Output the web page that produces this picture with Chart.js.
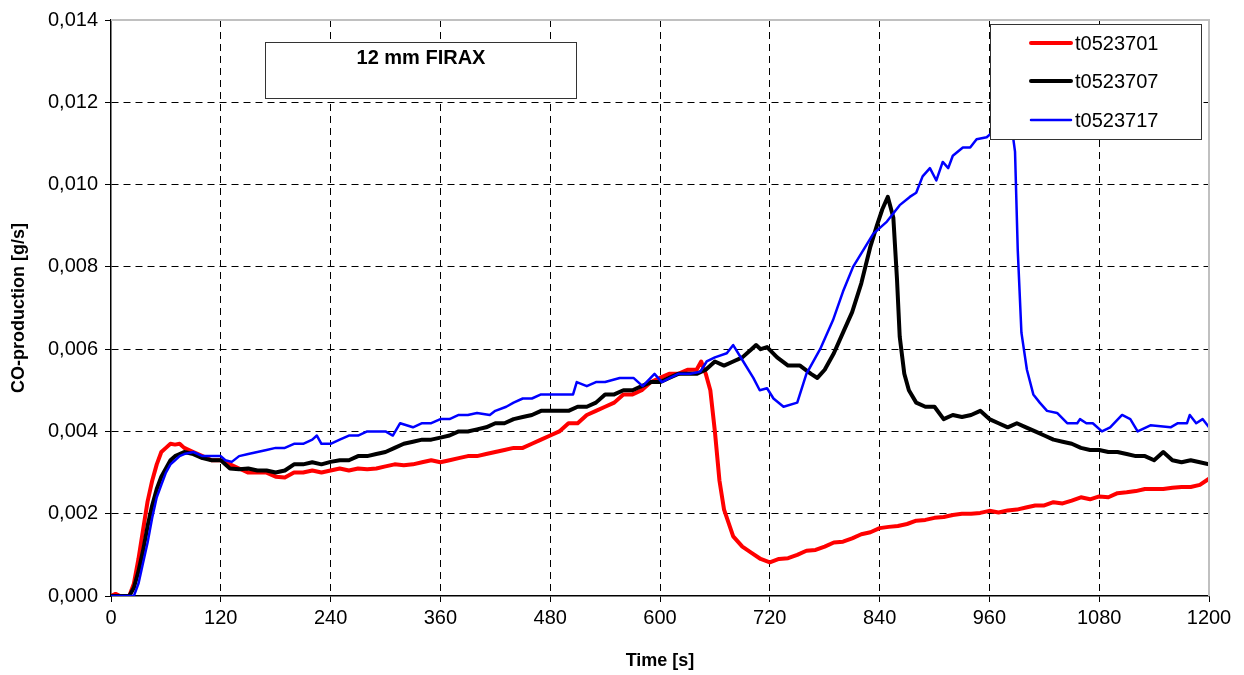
<!DOCTYPE html>
<html>
<head>
<meta charset="utf-8">
<script src="https://cdn.jsdelivr.net/npm/chart.js@4"></script>
<style>
  html, body { margin: 0; padding: 0; background: #fff; }
  #wrap { width: 1244px; height: 675px; position: relative; }
</style>
</head>
<body>
<div id="wrap"><canvas id="coChart" width="1244" height="675"></canvas></div>
<script>
const chartTitle = '12 mm FIRAX';
const seriesNames = ['t0523701', 't0523707', 't0523717'];
const xTicksMax = 1200;
const yTicksMax = 0.014;

const timeRed = [0,5,10,20,25,30,35,40,45,50,55,60,65,70,75,80,90,100,110,120,130,140,150,160,170,180,190,200,210,220,230,240,250,260,270,280,290,300,310,320,330,340,350,360,370,380,390,400,410,420,430,440,450,460,470,480,490,500,510,520,530,540,550,560,570,580,590,600,610,620,630,640,645,650,655,660,665,670,680,690,700,710,720,730,740,750,760,770,780,790,800,810,820,830,840,850,860,870,880,890,900,910,920,930,940,950,960,970,980,990,1000,1010,1020,1030,1040,1050,1060,1070,1080,1090,1100,1110,1120,1130,1140,1150,1160,1170,1180,1190,1200];
const coRed = [0,0.00005,0,0,0.0003,0.0009,0.0016,0.0023,0.0028,0.0032,0.0035,0.0036,0.0037,0.00368,0.0037,0.0036,0.0035,0.0034,0.0033,0.0033,0.0032,0.0031,0.0030,0.0030,0.0030,0.0029,0.00288,0.0030,0.0030,0.00305,0.0030,0.00305,0.0031,0.00305,0.0031,0.00308,0.0031,0.00315,0.0032,0.00318,0.0032,0.00325,0.0033,0.00325,0.0033,0.00335,0.0034,0.0034,0.00345,0.0035,0.00355,0.0036,0.0036,0.0037,0.0038,0.0039,0.0040,0.0042,0.0042,0.0044,0.0045,0.0046,0.0047,0.0049,0.0049,0.0050,0.0052,0.0053,0.0054,0.0054,0.0055,0.0055,0.0057,0.0054,0.0050,0.0040,0.0028,0.0021,0.00145,0.0012,0.00105,0.0009,0.00082,0.0009,0.00092,0.001,0.0011,0.00112,0.0012,0.0013,0.00132,0.0014,0.0015,0.00155,0.00165,0.00168,0.0017,0.00175,0.00183,0.00185,0.0019,0.00192,0.00197,0.002,0.002,0.00202,0.00207,0.00203,0.00208,0.0021,0.00215,0.0022,0.0022,0.00228,0.00225,0.00232,0.0024,0.00235,0.00242,0.0024,0.0025,0.00252,0.00255,0.0026,0.0026,0.0026,0.00263,0.00265,0.00265,0.0027,0.00285];

const timeBlack = [0,10,20,25,30,35,40,45,50,55,60,65,70,75,80,90,100,110,120,130,140,150,160,170,180,190,200,210,220,230,240,250,260,270,280,290,300,310,320,330,340,350,360,370,380,390,400,410,420,430,440,450,460,470,480,490,500,510,520,530,540,550,560,570,580,590,600,610,620,630,640,650,660,670,680,690,700,705,710,717,728,740,753,765,772,780,790,800,810,820,830,837,843,849,855,859,862,867,872,880,890,900,910,920,930,940,950,960,970,980,990,1000,1010,1020,1030,1040,1050,1060,1070,1080,1090,1100,1110,1120,1130,1140,1150,1160,1170,1180,1190,1200];
const coBlack = [0,0,0,0.0002,0.0006,0.0011,0.0017,0.0022,0.0026,0.0029,0.0031,0.0033,0.0034,0.00345,0.0035,0.00345,0.00335,0.0033,0.0033,0.0031,0.00308,0.0031,0.00305,0.00305,0.0030,0.00305,0.0032,0.0032,0.00325,0.0032,0.00326,0.0033,0.0033,0.0034,0.0034,0.00345,0.0035,0.0036,0.0037,0.00375,0.0038,0.0038,0.00385,0.0039,0.0040,0.0040,0.00405,0.0041,0.0042,0.0042,0.0043,0.00435,0.0044,0.0045,0.0045,0.0045,0.0045,0.0046,0.0046,0.0047,0.0049,0.0049,0.0050,0.0050,0.0051,0.0052,0.0052,0.0053,0.0054,0.0054,0.0054,0.0055,0.0057,0.0056,0.0057,0.0058,0.0060,0.0061,0.0060,0.00605,0.0058,0.0056,0.0056,0.0054,0.0053,0.0055,0.0059,0.0064,0.0069,0.0076,0.0085,0.0090,0.0094,0.0097,0.0092,0.0077,0.0063,0.0054,0.0050,0.0047,0.0046,0.0046,0.0043,0.0044,0.00435,0.0044,0.0045,0.0043,0.0042,0.0041,0.0042,0.0041,0.0040,0.0039,0.0038,0.00375,0.0037,0.0036,0.00355,0.00355,0.0035,0.0035,0.00345,0.0034,0.0034,0.0033,0.0035,0.0033,0.00325,0.0033,0.00325,0.0032];

const timeBlue = [0,10,20,25,30,35,40,45,50,55,60,65,70,75,80,90,100,110,120,125,132,140,150,160,170,180,190,200,210,220,225,230,240,250,260,270,280,290,300,308,316,330,340,350,360,370,380,390,400,414,420,432,440,450,460,470,480,490,505,509,520,530,540,556,571,581,594,602,611,620,633,644,651,660,673,680,691,702,709,717,724,735,750,760,775,789,800,811,822,833,848,862,873,880,887,895,902,909,915,920,931,939,946,957,965,975,982,988,991,995,1001,1008,1015,1023,1034,1045,1056,1059,1066,1073,1083,1092,1105,1114,1122,1136,1158,1166,1176,1179,1186,1193,1200];
const coBlue = [0,0,0,0,0.0003,0.0008,0.0013,0.0019,0.0024,0.0027,0.0030,0.0032,0.0033,0.0034,0.00345,0.0035,0.0034,0.0034,0.0034,0.0033,0.00326,0.0034,0.00345,0.0035,0.00355,0.0036,0.0036,0.0037,0.0037,0.0038,0.0039,0.0037,0.0037,0.0038,0.0039,0.0039,0.0040,0.0040,0.0040,0.0039,0.0042,0.0041,0.0042,0.0042,0.0043,0.0043,0.0044,0.0044,0.00445,0.0044,0.0045,0.0046,0.0047,0.0048,0.0048,0.0049,0.0049,0.0049,0.0049,0.0052,0.0051,0.0052,0.0052,0.0053,0.0053,0.0051,0.0054,0.0052,0.0053,0.0054,0.0054,0.00545,0.0057,0.0058,0.0059,0.0061,0.0057,0.0053,0.0050,0.00505,0.0048,0.0046,0.0047,0.0054,0.0060,0.0067,0.0074,0.0080,0.0084,0.0088,0.0091,0.0095,0.0097,0.0098,0.0102,0.0104,0.0101,0.01055,0.0104,0.0107,0.0109,0.0109,0.0111,0.01115,0.0113,0.0117,0.0118,0.0108,0.0084,0.0064,0.0055,0.0049,0.0047,0.0045,0.00445,0.0042,0.0042,0.0043,0.0042,0.0042,0.0040,0.0041,0.0044,0.0043,0.0040,0.00415,0.0041,0.0042,0.0042,0.0044,0.0042,0.0043,0.0041];

function toPoints(ts, vs) {
    return ts.map((t, i) => ({ x: t, y: vs[i] }));
}

// title box and legend drawn inside the plot, like the original sheet
const boxesPlugin = {
    id: 'boxes',
    afterDraw(chart) {
        const ctx = chart.ctx;
        const area = chart.chartArea;
        ctx.save();

        // grey frame on top and right
        ctx.strokeStyle = '#c0c0c0';
        ctx.lineWidth = 2;
        ctx.beginPath();
        ctx.moveTo(area.left, area.top);
        ctx.lineTo(area.right, area.top);
        ctx.lineTo(area.right, area.bottom);
        ctx.stroke();

        // title box
        ctx.fillStyle = '#fff';
        ctx.fillRect(265, 42, 311, 56);
        ctx.strokeStyle = '#333';
        ctx.lineWidth = 1;
        ctx.strokeRect(265.5, 42.5, 311, 56);
        ctx.fillStyle = '#000';
        ctx.font = 'bold 20px "Liberation Sans", Arial, sans-serif';
        ctx.textAlign = 'center';
        ctx.textBaseline = 'middle';
        ctx.fillText(chartTitle, 421, 58);

        // legend
        ctx.fillStyle = '#fff';
        ctx.fillRect(990, 24, 211, 115);
        ctx.strokeStyle = '#333';
        ctx.strokeRect(990.5, 24.5, 211, 115);
        ctx.font = '20px "Liberation Sans", Arial, sans-serif';
        ctx.textAlign = 'left';
        const rows = [43, 81, 120];
        chart.data.datasets.forEach((ds, i) => {
            ctx.strokeStyle = ds.borderColor;
            ctx.lineWidth = ds.borderWidth;
            ctx.lineCap = 'round';
            ctx.beginPath();
            ctx.moveTo(1031, rows[i]);
            ctx.lineTo(1071, rows[i]);
            ctx.stroke();
            ctx.fillStyle = '#000';
            ctx.fillText(ds.label, 1075, rows[i] + 1);
        });
        ctx.restore();
    }
};

window.onload = function() {
    const ctx = document.getElementById('coChart').getContext('2d');
    new Chart(ctx, {
        type: 'line',
        data: {
            datasets: [
                { label: seriesNames[0], data: toPoints(timeRed, coRed), borderColor: '#ff0000', borderWidth: 4, order: 2 },
                { label: seriesNames[1], data: toPoints(timeBlack, coBlack), borderColor: '#000000', borderWidth: 4, order: 1 },
                { label: seriesNames[2], data: toPoints(timeBlue, coBlue), borderColor: '#0000ff', borderWidth: 2.5, order: 0 }
            ]
        },
        options: {
            responsive: false,
            animation: false,
            events: [],
            elements: { point: { radius: 0 }, line: { tension: 0, borderJoinStyle: 'round', borderCapStyle: 'round' } },
            layout: { padding: { top: 20, right: 35, left: 0, bottom: 0 } },
            plugins: { legend: { display: false }, tooltip: { enabled: false } },
            scales: {
                x: {
                    type: 'linear',
                    min: 0,
                    max: xTicksMax,
                    afterFit: s => { s.height = 79; },
                    ticks: { stepSize: 120, color: '#000', padding: 4, maxRotation: 0,
                        callback: v => String(v),
                        font: { family: '"Liberation Sans", Arial, sans-serif', size: 20 } },
                    grid: {
                        color: c => (c.tick && c.tick.value > 0 && c.tick.value < xTicksMax) ? '#000' : 'rgba(0,0,0,0)',
                        tickColor: '#000',
                        tickLength: 6,
                        lineWidth: 1
                    },
                    border: { display: true, color: '#000', width: 1.5, dash: [7, 5] },
                    title: { display: true, text: 'Time [s]', color: '#000', padding: { top: 0, bottom: 3 },
                        font: { family: '"Liberation Sans", Arial, sans-serif', size: 18, weight: 'bold' } }
                },
                y: {
                    min: 0,
                    max: yTicksMax,
                    afterFit: s => { s.width = 111; },
                    ticks: { stepSize: 0.002, color: '#000', padding: 7,
                        callback: v => v.toFixed(3).replace('.', ','),
                        font: { family: '"Liberation Sans", Arial, sans-serif', size: 20 } },
                    grid: {
                        color: c => (c.tick && c.tick.value > 0 && c.tick.value < yTicksMax - 1e-9) ? '#000' : 'rgba(0,0,0,0)',
                        tickColor: '#000',
                        tickLength: 6,
                        lineWidth: 1
                    },
                    border: { display: true, color: '#000', width: 1.5, dash: [7, 5] },
                    title: { display: true, text: 'CO-production [g/s]', color: '#000', padding: { top: 8, bottom: 0 },
                        font: { family: '"Liberation Sans", Arial, sans-serif', size: 18, weight: 'bold' } }
                }
            }
        },
        plugins: [boxesPlugin]
    });
};
</script>
</body>
</html>
